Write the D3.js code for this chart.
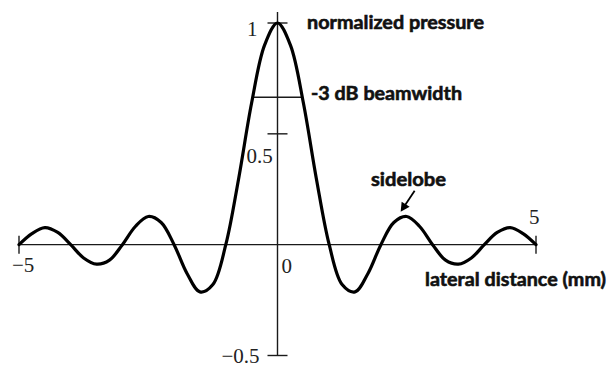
<!DOCTYPE html>
<html>
<head>
<meta charset="utf-8">
<script src="https://cdn.jsdelivr.net/npm/d3@7"></script>
<style>
  html, body { margin: 0; padding: 0; background: #fff; }
  svg { display: block; }
  .tick-label { font-family: "Liberation Serif", "DejaVu Serif", serif; font-size: 21px; fill: #222; }
  .note { font-family: Lato, "Open Sans", sans-serif; font-weight: 700; font-size: 19px; fill: #111; stroke: #111; stroke-width: 0.6px; }
</style>
</head>
<body>
<svg id="chart" width="608" height="368"></svg>
<script>
// Lateral beam profile: normalized pressure vs. lateral distance (mm)
const distance = [
  -5, -4.75, -4.5, -4.25, -4, -3.75, -3.5, -3.25, -3, -2.75, -2.5, -2.25, -2,
  -1.75, -1.5, -1.25, -1, -0.75, -0.5, -0.25, 0, 0.25, 0.5, 0.75, 1, 1.25, 1.5,
  1.75, 2, 2.25, 2.5, 2.75, 3, 3.25, 3.5, 3.75, 4, 4.25, 4.5, 4.75, 5
];
const pressure = [
  0.00, 0.05, 0.077, 0.055, 0.00, -0.06, -0.088, -0.07, 0.00, 0.082, 0.127, 0.10, 0.00,
  -0.13, -0.213, -0.18, 0.00, 0.30, 0.64, 0.90, 1.00, 0.90, 0.64, 0.30, 0.00, -0.18, -0.213,
  -0.13, 0.00, 0.10, 0.127, 0.082, 0.00, -0.07, -0.088, -0.06, 0.00, 0.055, 0.077, 0.05, 0.00
];

const xTicks = [-5, 5];
const xTickLabels = ["\u22125", "5"];
const yTicks = [1, 0.5, -0.5];
const yTickLabels = ["1", "0.5", "\u22120.5"];
const originLabel = "0";

// -3 dB beamwidth marker: level and the two edges on the main lobe
const beamLevel = 0.665;
const beamEdges = [-0.49, 0.49];

// sidelobe annotated by the arrow
const sidelobePeak = { distance: 2.44, pressure: 0.126 };

const svg = d3.select("#chart");

const x = d3.scaleLinear().domain([-5, 5]).range([19, 536]);
const y = d3.scaleLinear().domain([-0.5, 1]).range([355.5, 23]);

const axisColor = "#1a1a1a";

// axes crossing at the origin
svg.append("line")
  .attr("x1", x(-5)).attr("x2", x(5))
  .attr("y1", y(0)).attr("y2", y(0))
  .attr("stroke", axisColor).attr("stroke-width", 1.4);
svg.append("line")
  .attr("x1", x(0)).attr("x2", x(0))
  .attr("y1", y(1) - 11).attr("y2", y(-0.5))
  .attr("stroke", axisColor).attr("stroke-width", 1.4);

// tick marks straddling each axis
svg.selectAll(".ytick").data(yTicks).enter().append("line")
  .attr("x1", x(0) - 10).attr("x2", x(0) + 10)
  .attr("y1", d => y(d)).attr("y2", d => y(d))
  .attr("stroke", axisColor).attr("stroke-width", 1.4);
svg.selectAll(".xtick").data(xTicks).enter().append("line")
  .attr("x1", d => x(d)).attr("x2", d => x(d))
  .attr("y1", y(0) - 9).attr("y2", y(0) + 9)
  .attr("stroke", axisColor).attr("stroke-width", 1.4);

// tick labels
const yLabelPos = [
  { dx: -20, dy: 13, anchor: "end" },
  { dx: -31, dy: 29, anchor: "start" },
  { dx: -56, dy: 7.5, anchor: "start" }
];
yTicks.forEach((t, i) => {
  svg.append("text").attr("class", "tick-label")
    .attr("x", x(0) + yLabelPos[i].dx)
    .attr("y", y(t) + yLabelPos[i].dy)
    .attr("text-anchor", yLabelPos[i].anchor)
    .text(yTickLabels[i]);
});
const xLabelPos = [
  { dx: -7, dy: 27 },
  { dx: -7, dy: -21 }
];
xTicks.forEach((t, i) => {
  svg.append("text").attr("class", "tick-label")
    .attr("x", x(t) + xLabelPos[i].dx)
    .attr("y", y(0) + xLabelPos[i].dy)
    .text(xTickLabels[i]);
});
svg.append("text").attr("class", "tick-label")
  .attr("x", x(0) + 4).attr("y", y(0) + 28)
  .text(originLabel);

// -3 dB beamwidth line across the main lobe
svg.append("line")
  .attr("x1", x(beamEdges[0])).attr("x2", x(beamEdges[1]))
  .attr("y1", y(beamLevel)).attr("y2", y(beamLevel))
  .attr("stroke", axisColor).attr("stroke-width", 1.4);

// pressure profile
const line = d3.line()
  .x((d, i) => x(distance[i]))
  .y(d => y(d))
  .curve(d3.curveCatmullRom.alpha(0.5));
svg.append("path")
  .datum(pressure)
  .attr("d", line)
  .attr("fill", "none")
  .attr("stroke", "#000")
  .attr("stroke-width", 3.2)
  .attr("stroke-linejoin", "round")
  .attr("stroke-linecap", "round");

// annotations
const notes = [
  { text: "normalized pressure", x: 307, y: 29, len: 177 },
  { text: "-3 dB beamwidth", x: 311, y: 100, len: 151 },
  { text: "sidelobe", x: 371, y: 186, len: 75 },
  { text: "lateral distance (mm)", x: 425, y: 286, len: 181 }
];
svg.selectAll(".note").data(notes).enter().append("text")
  .attr("class", "note")
  .attr("x", d => d.x).attr("y", d => d.y)
  .attr("textLength", d => d.len)
  .attr("lengthAdjust", "spacingAndGlyphs")
  .text(d => d.text);

// arrow pointing at the first right sidelobe
const tipX = x(sidelobePeak.distance) - 3;
const tipY = y(sidelobePeak.pressure) - 5;
svg.append("line")
  .attr("x1", tipX + 14).attr("y1", tipY - 21)
  .attr("x2", tipX + 2).attr("y2", tipY - 3)
  .attr("stroke", "#000").attr("stroke-width", 1.8);
svg.append("path")
  .attr("d", `M${tipX},${tipY} L${tipX + 1},${tipY - 10} L${tipX + 9},${tipY - 5} Z`)
  .attr("fill", "#000");
</script>
</body>
</html>
